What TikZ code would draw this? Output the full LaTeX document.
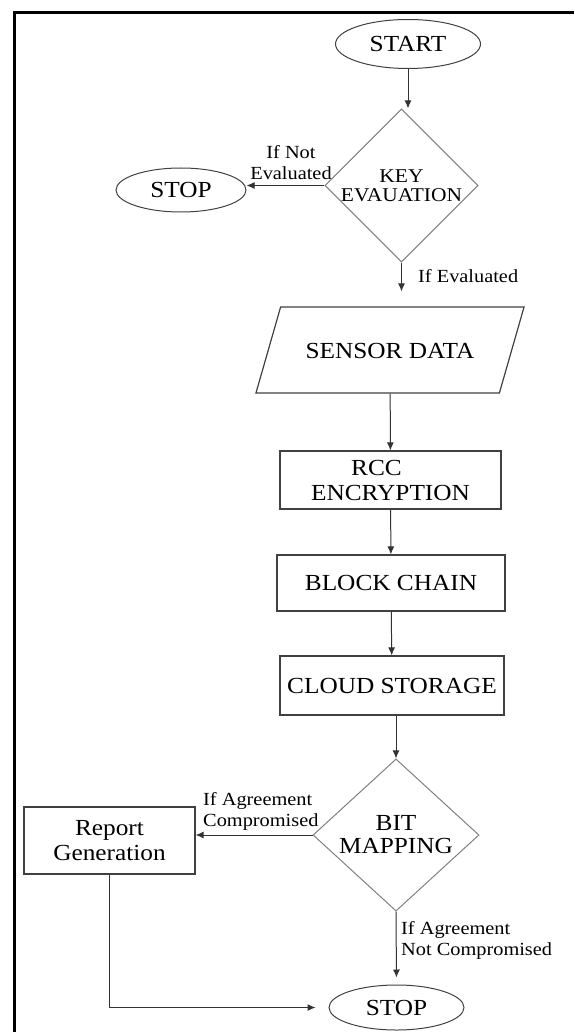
\documentclass[tikz,border=0pt]{standalone}
\usepackage{fontspec}
\setmainfont{Liberation Serif}[FakeStretch=1.1]
\usepackage{tikz}
\usetikzlibrary{arrows.meta, shapes, calc, positioning}

\begin{document}
\begin{tikzpicture}[x=1pt, y=-1pt, >={Latex[length=8pt,width=7pt]}]
	\tikzstyle{term}=[ellipse, draw=black!75, line width=1pt, inner sep=0pt, font=\fontsize{23}{25}\selectfont]
	\tikzstyle{decide}=[diamond, draw=black!50, line width=1pt, inner sep=0pt, align=center]
	\tikzstyle{process}=[rectangle, draw=black!75, line width=1.2pt, inner sep=0pt, align=center, font=\fontsize{23}{25}\selectfont]
	\tikzstyle{io}=[trapezium, trapezium left angle=74, trapezium right angle=106, draw=black!75, line width=1.2pt, inner xsep=25pt, inner ysep=35pt, text height=16pt, text depth=0pt, font=\fontsize{23}{25}\selectfont]
	\tikzstyle{cond}=[align=center, inner sep=0pt, font=\fontsize{18.5}{21}\selectfont]
	\tikzstyle{flow}=[->, line width=1pt, draw=black!80]
	\useasboundingbox (0, 0) rectangle (574, 1032);
	
	% Frame
	\draw [line width=3pt] (574, 13) -- (14, 13) -- (14, 1032);
	
	% Start and key check
	\node at (408, 44) [term, minimum width=145pt, minimum height=49pt] (start) {START};
	\node at (401.5, 185.5) [decide, minimum width=153pt, minimum height=125pt, font=\fontsize{19.5}{19}\selectfont] (key) {KEY\\EVAUATION};
	\node at (181, 190) [term, minimum width=130pt, minimum height=44pt] (stopa) {STOP};
	
	% Data steps
	\node at (390, 350) [io] (sensor) {SENSOR DATA};
	\node at (390.5, 480) [process, minimum width=221pt, minimum height=58pt] (rcc) {RCC\hspace*{28pt}\\ENCRYPTION};
	\node at (391, 583) [process, minimum width=228pt, minimum height=56pt] (block) {BLOCK CHAIN};
	\node at (392, 685.5) [process, minimum width=224pt, minimum height=59pt] (cloud) {CLOUD STORAGE};
	
	% Bit check and end
	\node at (396, 835) [decide, minimum width=166pt, minimum height=134pt, font=\fontsize{23}{23}\selectfont] (bit) {BIT\\MAPPING};
	\node at (109.5, 840.5) [process, minimum width=171pt, minimum height=67pt] (report) {Report\\Generation};
	\node at (396.5, 1007.5) [term, minimum width=135pt, minimum height=45pt] (stopb) {STOP};
	
	% Arrows
	\draw [flow] (start.south) -- (start.south |- key.north);
	\draw [flow] (key.west) -- (key.west -| stopa.east);
	\draw [flow, shorten >=15pt] (key.south) -- (key.south |- sensor.north);
	\draw [flow] (sensor) -- (rcc);
	\draw [flow] (rcc) -- (block);
	\draw [flow] (block) -- (cloud);
	\draw [flow] (bit.north |- cloud.south) -- (bit.north);
	\draw [flow] (bit.west) -- (bit.west -| report.east);
	\draw [flow, shorten >=7pt] (bit.south) -- (stopb.north);
	\draw [flow, shorten >=13pt] (report.south) |- (stopb.west);
	
	% Text
	\node at (291, 163) [cond] (notevalLbl) {If Not\\Evaluated};
	\node at (418, 276) [cond, anchor=west] (evalLbl) {If Evaluated};
	\node at (203, 811) [cond, anchor=west, align=left] (compLbl) {If Agreement\\Compromised};
	\node at (401, 940.5) [cond, anchor=west, align=left] (notcompLbl) {If Agreement\\Not Compromised};
\end{tikzpicture}
\end{document}
